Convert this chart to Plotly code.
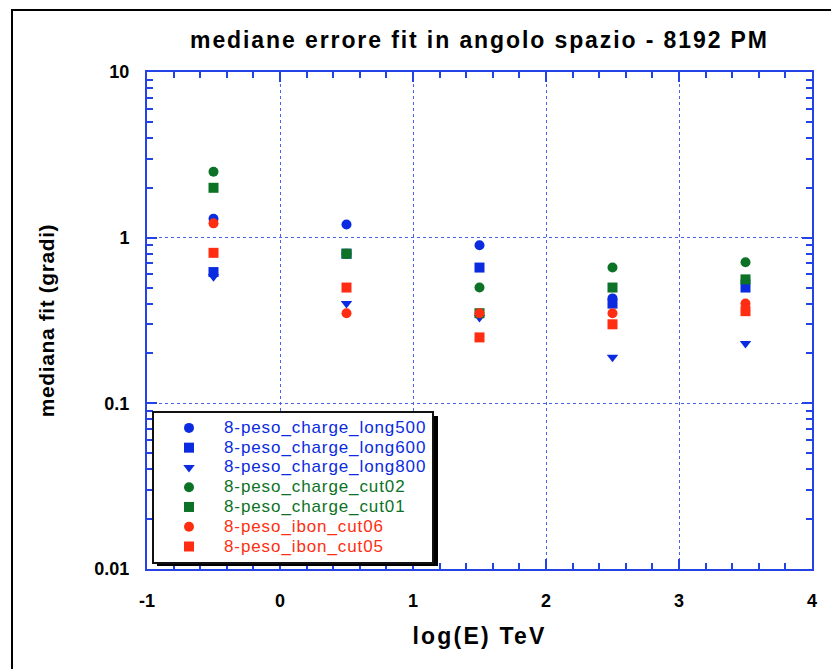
import plotly.graph_objects as go

# ---- data ----
log_e = [-0.5, 0.5, 1.5, 2.5, 3.5]
charge_long500 = [1.3, 1.2, 0.9, 0.43, 0.55]
charge_long600 = [0.62, 0.8, 0.66, 0.40, 0.50]
charge_long800 = [0.58, 0.40, 0.33, 0.19, 0.23]
charge_cut02 = [2.5, 0.8, 0.50, 0.66, 0.71]
charge_cut01 = [2.0, 0.8, 0.35, 0.50, 0.56]
ibon_cut06 = [1.22, 0.35, 0.35, 0.35, 0.40]
ibon_cut05 = [0.81, 0.50, 0.25, 0.30, 0.36]

series_names = ["8-peso_charge_long500", "8-peso_charge_long600", "8-peso_charge_long800",
                "8-peso_charge_cut02", "8-peso_charge_cut01",
                "8-peso_ibon_cut06", "8-peso_ibon_cut05"]
series_values = [charge_long500, charge_long600, charge_long800,
                 charge_cut02, charge_cut01, ibon_cut06, ibon_cut05]

x_tickvals = [-1, 0, 1, 2, 3, 4]
x_ticktext = ["-1", "0", "1", "2", "3", "4"]
y_tickvals = [0.01, 0.1, 1, 10]
y_ticktext = ["0.01", "0.1", "1", "10"]

BLUE = "#0b2be0"
GREEN = "#0c7226"
RED = "#ff2e12"
styles = [(BLUE, "circle"), (BLUE, "square"), (BLUE, "triangle-down"),
          (GREEN, "circle"), (GREEN, "square"),
          (RED, "circle"), (RED, "square")]

W, H = 831, 669
L, R, T, B = 147, 19, 72, 100
pw, ph = W - L - R, H - T - B

def px(xp):
    return (xp - L) / pw

def py(yp):
    return (H - B - yp) / ph

fig = go.Figure()
for name, vals, (col, sym) in zip(series_names, series_values, styles):
    fig.add_trace(go.Scatter(
        x=log_e, y=vals, mode="markers",
        name=f'<span style="color:{col};font-size:17px;letter-spacing:0.9px">{name}</span>',
        marker=dict(color=col, symbol=sym, size=10, line=dict(width=0)),
    ))

axis_col = "#2343e6"
grid_col = "#4a62ee"
font_fam = "Liberation Sans, Arial, sans-serif"

fig.update_layout(
    width=W, height=H,
    margin=dict(l=L, r=R, t=T, b=B),
    paper_bgcolor="white", plot_bgcolor="white",
    title=dict(text='<span style="letter-spacing:1.9px"><b>mediane errore fit in angolo spazio - 8192 PM</b></span>',
               x=0.5, xref="paper", y=1 - 40 / H, yref="container",
               xanchor="center", yanchor="middle",
               font=dict(family=font_fam, size=23, color="black")),
    showlegend=True,
    legend=dict(x=px(152), y=py(411), xanchor="left", yanchor="top",
                bgcolor="white", bordercolor="#111", borderwidth=2,
                font=dict(family=font_fam, size=12.9, color="black"),
                itemwidth=60, tracegroupgap=0),
    xaxis=dict(
        range=[-1, 4], tickvals=x_tickvals, ticktext=x_ticktext,
        showline=True, linecolor=axis_col, linewidth=2, mirror="ticks",
        ticks="inside", ticklen=10, tickwidth=2, tickcolor=axis_col,
        minor=dict(ticks="inside", ticklen=6, tickwidth=1.5, tickcolor=axis_col,
                   dtick=0.2, tick0=0, showgrid=False),
        showgrid=True, gridcolor=grid_col, gridwidth=1, griddash="dot",
        zeroline=False,
        tickfont=dict(family=font_fam, size=18, color="black", weight="bold"),
        ticklabelstandoff=14,
        title=dict(text='<span style="letter-spacing:2.2px"><b>log(E) TeV</b></span>', standoff=18,
                   font=dict(family=font_fam, size=23, color="black")),
    ),
    yaxis=dict(
        type="log", range=[-2, 1],
        showline=True, linecolor=axis_col, linewidth=2, mirror="ticks",
        ticks="inside", ticklen=10, tickwidth=2, tickcolor=axis_col,
        minor=dict(ticks="inside", ticklen=6, tickwidth=1.5, tickcolor=axis_col,
                   dtick="D1", showgrid=False),
        showgrid=True, gridcolor=grid_col, gridwidth=1, griddash="dot",
        zeroline=False,
        tickvals=y_tickvals, ticktext=y_ticktext,
        tickfont=dict(family=font_fam, size=18, color="black", weight="bold"),
        ticklabelstandoff=12,
        title=dict(text='<span style="letter-spacing:0.6px"><b>mediana fit (gradi)</b></span>', standoff=34,
                   font=dict(family=font_fam, size=21, color="black")),
    ),
    shapes=[
        # outer frame
        dict(type="rect", xref="paper", yref="paper",
             x0=px(12), x1=px(845), y0=py(680), y1=py(10),
             line=dict(color="black", width=2), fillcolor="rgba(0,0,0,0)", layer="below"),
        # legend drop shadow
        dict(type="rect", xref="paper", yref="paper",
             x0=px(157), x1=px(438), y0=py(566), y1=py(416),
             line=dict(width=0), fillcolor="black", layer="above"),
    ],
)

fig.write_html("out.html")
